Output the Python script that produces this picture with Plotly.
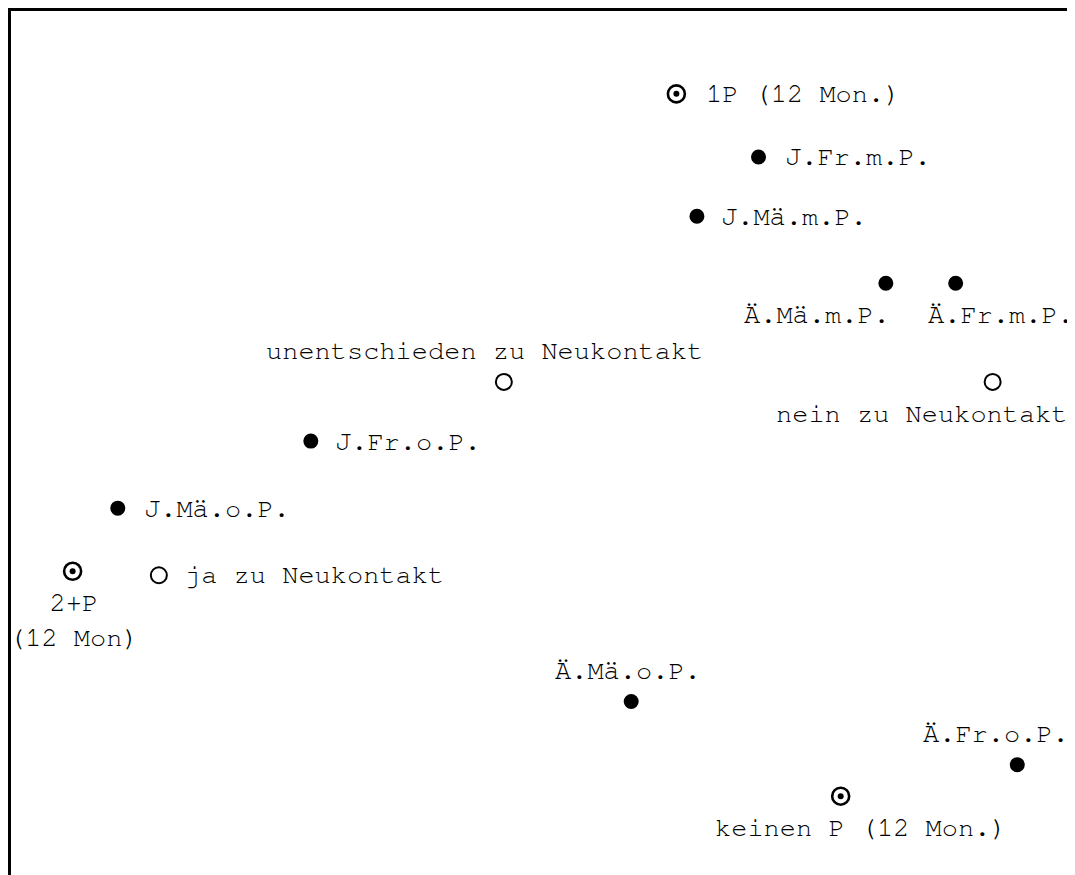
import plotly.graph_objects as go

# Correspondence map: category labels and their coordinates on the two dimensions
labels = [
    "1P (12 Mon.)", "J.Fr.m.P.", "J.Mä.m.P.", "Ä.Mä.m.P.", "Ä.Fr.m.P.",
    "unentschieden zu Neukontakt", "nein zu Neukontakt", "J.Fr.o.P.", "J.Mä.o.P.",
    "2+P<br>(12 Mon)", "ja zu Neukontakt", "Ä.Mä.o.P.", "Ä.Fr.o.P.", "keinen P (12 Mon.)",
]
dim1 = [0.33, 0.53, 0.38, 0.84, 1.01, -0.09, 1.10, -0.56, -1.03, -1.14, -0.93, 0.22, 1.16, 0.73]
dim2 = [0.88, 0.72, 0.57, 0.40, 0.40, 0.15, 0.15, 0.00, -0.17, -0.33, -0.34, -0.66, -0.82, -0.90]
kind = ["partner", "group", "group", "group", "group",
        "contact", "contact", "group", "group",
        "partner", "contact", "group", "group", "partner"]

# label placement: (xanchor, xshift, yanchor, yshift)
placement = [
    ("left", 28, "middle", 0), ("left", 24, "middle", 0), ("left", 22, "middle", 0),
    ("right", 6, "top", -16), ("left", -30, "top", -16),
    ("center", -19, "bottom", 16), ("right", 77, "top", -16),
    ("left", 22, "middle", 0), ("left", 24, "middle", 0),
    ("center", 1, "top", -16), ("left", 24, "middle", 0),
    ("center", -3, "bottom", 16), ("center", -21, "bottom", 16), ("center", 20, "top", -16),
]

symbols = {"group": "circle", "contact": "circle-open", "partner": "circle-open"}
sizes = {"group": 13, "contact": 16, "partner": 17}
widths = {"group": 2, "contact": 2, "partner": 2.6}

FONT = "Nimbus Mono PS, Nimbus Mono L, FreeMono, Courier, Courier New, monospace"

fig = go.Figure()
for k in ["group", "contact", "partner"]:
    idx = [i for i, v in enumerate(kind) if v == k]
    fig.add_trace(go.Scatter(
        x=[dim1[i] for i in idx],
        y=[dim2[i] for i in idx],
        mode="markers",
        marker=dict(symbol=symbols[k], size=sizes[k], color="black",
                    line=dict(color="black", width=widths[k])),
        showlegend=False,
        hoverinfo="skip",
    ))

# centre dot of the partner-status symbols
idx = [i for i, v in enumerate(kind) if v == "partner"]
fig.add_trace(go.Scatter(
    x=[dim1[i] for i in idx],
    y=[dim2[i] for i in idx],
    mode="markers",
    marker=dict(symbol="circle", size=6, color="black", line=dict(width=0)),
    showlegend=False,
    hoverinfo="skip",
))

for i, lab in enumerate(labels):
    xa, xs, ya, ys = placement[i]
    fig.add_annotation(
        x=dim1[i], y=dim2[i], text=lab, showarrow=False,
        xanchor=xa, yanchor=ya, xshift=xs, yshift=ys,
        font=dict(family=FONT, size=27, color="black"),
    )

fig.update_layout(
    width=1075,
    height=875,
    margin=dict(l=3, r=0, t=3, b=0),
    plot_bgcolor="white",
    paper_bgcolor="white",
    showlegend=False,
)
fig.update_xaxes(range=[-1.29, 1.32], side="top", showline=True, linecolor="black",
                 linewidth=3, showgrid=False, zeroline=False, showticklabels=False,
                 ticks="")
fig.update_yaxes(range=[-1.12, 1.09], showline=True, linecolor="black",
                 linewidth=3, showgrid=False, zeroline=False, showticklabels=False,
                 ticks="")

fig.write_html("out.html")
